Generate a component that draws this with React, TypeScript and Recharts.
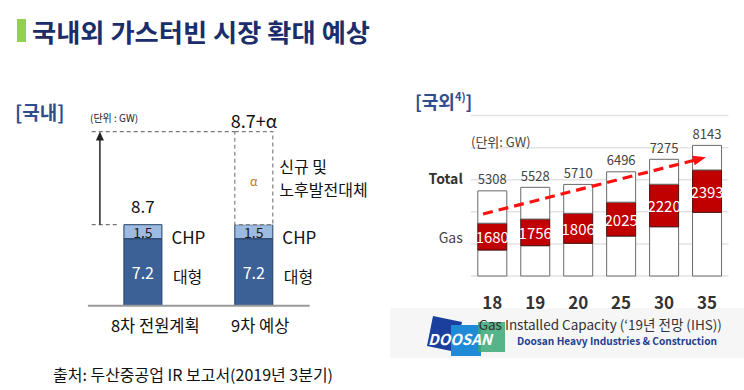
import React from 'react';
import { BarChart, Bar, XAxis, YAxis, CartesianGrid, LabelList, ReferenceLine } from 'recharts';

const FONT = '"Noto Sans CJK KR", "Noto Sans", sans-serif';

// ---------- Domestic (left) ----------
const DOM_CATS = ['8차 전원계획', '9차 예상'];
const DOM_LARGE = [7.2, 7.2];
const DOM_CHP = [1.5, 1.5];
const DOM_ALPHA = [0, 10];
const DOM_BASE_TOTAL = 8.7;
const DOM_YMAX = 20;

// ---------- Overseas (right) ----------
const INT_YEARS = ['18', '19', '20', '25', '30', '35'];
const INT_TOTAL = [5308, 5528, 5710, 6496, 7275, 8143];
const INT_GAS = [1680, 1756, 1806, 2025, 2220, 2393];
const INT_GAS_LOW = [1620, 1890, 2040, 2490, 3070, 3970];
const INT_GAS_HIGH = [3290, 3550, 3910, 4600, 5720, 6610];
const INT_TICKS = [0, 2000, 4000, 6000, 8000, 10000];
const INT_ROW_LABELS = [
  { v: 2430, t: 'Gas' },
  { v: 6110, t: 'Total' },
];
const INT_TREND = [4010, 7400];

const domData = DOM_CATS.map((c, i) => ({
  cat: c,
  large: DOM_LARGE[i],
  chp: DOM_CHP[i],
  alpha: DOM_ALPHA[i],
}));

const intData = INT_YEARS.map((y, i) => ({
  year: y,
  low: INT_GAS_LOW[i],
  gas: INT_GAS_HIGH[i] - INT_GAS_LOW[i],
  top: INT_TOTAL[i] - INT_GAS_HIGH[i],
  gasValue: INT_GAS[i],
  total: INT_TOTAL[i],
}));

// left layout
const L_TOP = 119.5;
const L_LEFT = 87.9;
const L_RIGHT = 90.3;
const L_XH = 30;
const L_BOTTOM = 390 - 305.7 - L_XH;
const L_PLOT_W = 400 - L_LEFT - L_RIGHT;
const L_BAR = 38;

const LargeLabel = (p: any) => {
  const { x, y, width, height, value } = p;
  const cx = x + width / 2;
  const cy = y + height / 2;
  return (
    <g fontFamily={FONT}>
      <text x={cx} y={cy} textAnchor="middle" dominantBaseline="central" fill="#ffffff" fontSize={16}>
        {Number(value).toFixed(1)}
      </text>
      <text x={x + width + 11} y={cy + 4} dominantBaseline="central" fill="#111" fontSize={16}>
        대형
      </text>
    </g>
  );
};

const ChpLabel = (p: any) => {
  const { x, y, width, height, index, value } = p;
  const cx = x + width / 2;
  const cy = y + height / 2;
  return (
    <g fontFamily={FONT}>
      <text x={cx} y={cy} textAnchor="middle" dominantBaseline="central" fill="#1a1a1a" fontSize={14}>
        {Number(value).toFixed(1)}
      </text>
      <text x={x + width + 9.5} y={cy + 5} dominantBaseline="central" fill="#111" fontSize={17}>
        CHP
      </text>
      {index === 0 && (
        <text x={cx} y={y - 19.5} textAnchor="middle" dominantBaseline="central" fill="#111" fontSize={17}>
          {DOM_BASE_TOTAL.toFixed(1)}
        </text>
      )}
    </g>
  );
};

const AlphaLabel = (p: any) => {
  const { x, y, width, height, value } = p;
  if (!value || !height) return null;
  const cx = x + width / 2;
  const cy = y + height / 2;
  return (
    <g fontFamily={FONT}>
      <text x={cx} y={y - 11.5} textAnchor="middle" dominantBaseline="central" fill="#111" fontSize={18}>
        {DOM_BASE_TOTAL.toFixed(1)}+α
      </text>
      <text x={cx} y={cy + 2} textAnchor="middle" dominantBaseline="central" fill="#c07a10" fontSize={12}>
        α
      </text>
      <text x={x + width + 6.5} y={cy - 12} dominantBaseline="central" fill="#111" fontSize={16}>
        신규 및
      </text>
      <text x={x + width + 6.5} y={cy + 10.5} dominantBaseline="central" fill="#111" fontSize={16}>
        노후발전대체
      </text>
    </g>
  );
};

const DomTick = (p: any) => {
  const { x, y, payload, index } = p;
  const dx = index === 0 ? 12 : 6;
  return (
    <text x={x + dx} y={y + 11} textAnchor="middle" dominantBaseline="central" fill="#111" fontSize={16.5} fontFamily={FONT}>
      {payload.value}
    </text>
  );
};

const TopDash = (p: any) => {
  const band = (p.x2 - p.x1) / 2;
  return (
    <line x1={p.x1 + 3.8} x2={p.x1 + 1.5 * band - L_BAR / 2} y1={p.y1} y2={p.y1} stroke="#777" strokeWidth={1.3} strokeDasharray="4 3" />
  );
};

const BaseDash = (p: any) => {
  const band = (p.x2 - p.x1) / 2;
  return (
    <line x1={p.x1 + 3.8} x2={p.x1 + 0.5 * band - L_BAR / 2 - 6} y1={p.y1} y2={p.y1} stroke="#777" strokeWidth={1.3} strokeDasharray="4 3" />
  );
};

const UpArrow = (p: any) => {
  const x = p.x1 - (L_PLOT_W / 4 - 12);
  const yb = Math.max(p.y1, p.y2);
  const yt = Math.min(p.y1, p.y2);
  return (
    <g>
      <line x1={x} x2={x} y1={yb} y2={yt + 8} stroke="#333" strokeWidth={1.6} />
      <polygon points={`${x},${yt} ${x - 4},${yt + 9} ${x + 4},${yt + 9}`} fill="#222" />
    </g>
  );
};

// right layout
const R_TOP = 115.6;
const R_LEFT = 70.8;
const R_RIGHT = 15.5;
const R_XH = 30;
const R_BOTTOM = 390 - 276 - R_XH;

const GasLabel = (p: any) => {
  const { x, y, width, height, index } = p;
  return (
    <text x={x + width / 2} y={y + height / 2} textAnchor="middle" dominantBaseline="central" fill="#ffffff" fontSize={15} fontFamily={FONT}>
      {intData[index] ? intData[index].gasValue : ''}
    </text>
  );
};

const TotalLabel = (p: any) => {
  const { x, y, width, index } = p;
  return (
    <text x={x + width / 2} y={y - 12.3} textAnchor="middle" dominantBaseline="central" fill="#444" fontSize={13} fontFamily={FONT}>
      {intData[index] ? intData[index].total : ''}
    </text>
  );
};

const YearTick = (p: any) => {
  const { x, y, payload } = p;
  return (
    <text x={x} y={y + 17.2} textAnchor="middle" dominantBaseline="central" fill="#333" fontSize={17} fontWeight="bold" fontFamily={FONT}>
      {payload.value}
    </text>
  );
};

const rowLabelShape = (t: string) => (p: any) => {
  const isTotal = t === 'Total';
  return (
    <text x={p.x1 - 8} y={p.y1} textAnchor="end" dominantBaseline="central" fill={isTotal ? '#333' : '#444'} fontSize={14} fontWeight={isTotal ? 'bold' : 'normal'} fontFamily={FONT}>
      {t}
    </text>
  );
};

const TrendArrow = (p: any) => {
  const { x1, y1, x2, y2 } = p;
  const dx = x2 - x1;
  const dy = y2 - y1;
  const len = Math.sqrt(dx * dx + dy * dy);
  const ux = dx / len;
  const uy = dy / len;
  const sx = x1 - ux * 9.5;
  const sy = y1 - uy * 9.5;
  const tx = x2 - 1;
  const ty = y2;
  const hl = 13;
  const hw = 5;
  const bx = tx - ux * hl;
  const by = ty - uy * hl;
  const px = -uy;
  const py = ux;
  return (
    <g>
      <line x1={sx} y1={sy} x2={bx + ux * 2} y2={by + uy * 2} stroke="#ff1010" strokeWidth={3.2} strokeDasharray="10 6" />
      <polygon points={`${tx},${ty} ${bx + px * hw},${by + py * hw} ${bx - px * hw},${by - py * hw}`} fill="#ff1010" />
    </g>
  );
};

export default function App() {
  return (
    <div style={{ position: 'absolute', left: 0, top: 0, width: 744, height: 390, background: '#fff', overflow: 'hidden', fontFamily: FONT }}>
      {/* background: logo band */}
      <svg width={744} height={390} style={{ position: 'absolute', left: 0, top: 0 }}>
        <rect x={390} y={308} width={354} height={50} fill="#f6f6f6" />
        <g>
          <polygon points="433,316 462,322 456,352 427,346" fill="#1b3f9c" />
          <polygon points="451,325 481,325 481,356 451,356" fill="#1f8ad6" />
          <polygon points="478,322 505,322 505,352 478,352" fill="#3aa877" opacity={0.85} />
          <text x={428} y={345} fill="#ffffff" fontSize={15} fontWeight="bold" fontStyle="italic" fontFamily={FONT}>
            DOOSAN
          </text>
          <text x={517} y={344.5} fill="#243f8f" fontSize={10.5} fontWeight="bold" fontFamily={FONT} textLength={200} lengthAdjust="spacingAndGlyphs">
            Doosan Heavy Industries &amp; Construction
          </text>
        </g>
      </svg>

      {/* left chart */}
      <div style={{ position: 'absolute', left: 0, top: 0 }}>
        <BarChart width={400} height={390} data={domData} margin={{ top: L_TOP, left: L_LEFT, right: L_RIGHT, bottom: L_BOTTOM }}>
          <XAxis dataKey="cat" height={L_XH} tickLine={false} axisLine={{ stroke: '#9a9a9a', strokeWidth: 2 }} tick={DomTick} interval={0} />
          <YAxis hide domain={[0, DOM_YMAX]} type="number" allowDataOverflow />
          <ReferenceLine y={DOM_BASE_TOTAL + DOM_ALPHA[1]} shape={TopDash} />
          <ReferenceLine y={DOM_BASE_TOTAL} shape={BaseDash} />
          <ReferenceLine
            segment={[
              { x: DOM_CATS[0], y: DOM_BASE_TOTAL },
              { x: DOM_CATS[0], y: DOM_BASE_TOTAL + DOM_ALPHA[1] },
            ]}
            shape={UpArrow}
          />
          <Bar dataKey="large" stackId="d" fill="#3b6196" stroke="#253f66" strokeWidth={1} barSize={L_BAR} isAnimationActive={false}>
            <LabelList dataKey="large" content={LargeLabel} />
          </Bar>
          <Bar dataKey="chp" stackId="d" fill="#9dbbe0" stroke="#253f66" strokeWidth={1} barSize={L_BAR} isAnimationActive={false}>
            <LabelList dataKey="chp" content={ChpLabel} />
          </Bar>
          <Bar dataKey="alpha" stackId="d" fill="#ffffff" stroke="#808080" strokeWidth={1.2} strokeDasharray="4 3" barSize={L_BAR} isAnimationActive={false}>
            <LabelList dataKey="alpha" content={AlphaLabel} />
          </Bar>
        </BarChart>
      </div>

      {/* right chart */}
      <div style={{ position: 'absolute', left: 400, top: 0 }}>
        <BarChart width={344} height={390} data={intData} margin={{ top: R_TOP, left: R_LEFT, right: R_RIGHT, bottom: R_BOTTOM }}>
          <CartesianGrid vertical={false} stroke="#e3e3e3" strokeWidth={1.5} />
          <XAxis dataKey="year" height={R_XH} tickLine={false} axisLine={false} tick={YearTick} interval={0} />
          <YAxis hide domain={[0, 10000]} ticks={INT_TICKS} type="number" />
          {INT_ROW_LABELS.map((r) => (
            <ReferenceLine key={r.t} y={r.v} shape={rowLabelShape(r.t)} />
          ))}
          <Bar dataKey="low" stackId="g" fill="#ffffff" stroke="#6a6a6a" strokeWidth={1} barSize={29} isAnimationActive={false} />
          <Bar dataKey="gas" stackId="g" fill="#c00000" stroke="#4a1010" strokeWidth={1} barSize={29} isAnimationActive={false}>
            <LabelList dataKey="gas" content={GasLabel} />
          </Bar>
          <Bar dataKey="top" stackId="g" fill="#ffffff" stroke="#6a6a6a" strokeWidth={1} barSize={29} isAnimationActive={false}>
            <LabelList dataKey="top" content={TotalLabel} />
          </Bar>
          <ReferenceLine
            segment={[
              { x: INT_YEARS[0], y: INT_TREND[0] },
              { x: INT_YEARS[INT_YEARS.length - 1], y: INT_TREND[1] },
            ]}
            shape={TrendArrow}
          />
        </BarChart>
      </div>

      {/* foreground texts */}
      <svg width={744} height={390} style={{ position: 'absolute', left: 0, top: 0, pointerEvents: 'none' }}>
        <rect x={17} y={19} width={9} height={23} fill="#92d050" />
        <text x={32} y={30.5} dominantBaseline="central" fill="#1b2d6b" fontSize={25} fontWeight="bold" fontFamily={FONT} textLength={338} lengthAdjust="spacingAndGlyphs">
          국내외 가스터빈 시장 확대 예상
        </text>
        <text x={15} y={111} dominantBaseline="central" fill="#2f4e8e" fontSize={19} fontWeight="bold" fontFamily={FONT}>
          [국내]
        </text>
        <text x={90} y={117} dominantBaseline="central" fill="#222" fontSize={10} fontFamily={FONT}>
          (단위 : GW)
        </text>
        <text x={415} y={100.7} dominantBaseline="central" fill="#2f4e8e" fontSize={18} fontWeight="bold" fontFamily={FONT}>
          [국외<tspan fontSize={11} dy={-5}>4)</tspan><tspan dy={5}>]</tspan>
        </text>
        <text x={471} y={141.7} dominantBaseline="central" fill="#444" fontSize={13} fontFamily={FONT}>
          (단위: GW)
        </text>
        <text x={478.7} y={323.5} dominantBaseline="central" fill="#333" fontSize={13.5} fontFamily={FONT}>
          Gas Installed Capacity (‘19년 전망 (IHS))
        </text>
        <text x={53} y={374} dominantBaseline="central" fill="#111" fontSize={15.5} fontFamily={FONT} textLength={280} lengthAdjust="spacingAndGlyphs">
          출처: 두산중공업 IR 보고서(2019년 3분기)
        </text>
      </svg>
    </div>
  );
}
